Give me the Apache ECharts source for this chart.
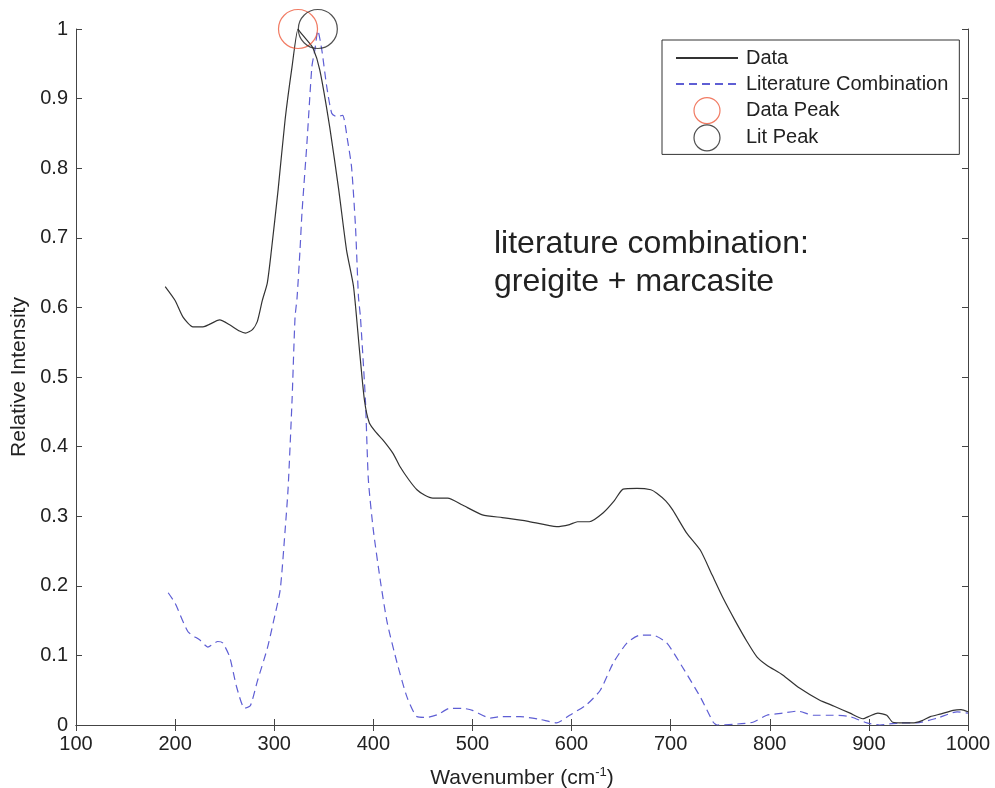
<!DOCTYPE html>
<html>
<head>
<meta charset="utf-8">
<script src="https://cdn.jsdelivr.net/npm/echarts@6/dist/echarts.min.js"></script>
<style>
html,body{margin:0;padding:0;background:#fff;}
#chart{width:995px;height:788px;}
</style>
</head>
<body>
<div id="chart"></div>
<script>
// Measured spectrum (Data)
var dataWavenumber = [190,200,208,218,228,245,255,265,271,278,283,288,293,297,304,311,318,324,326,333,339,346,356,365,373,380,386,391,396,403,410,420,427,436,444,452,460,475,490,510,530,555,585,598,606,618,632,643,652,666,680,686,695,702,716,730,742,753,765,777,787,797,813,830,850,865,881,894,901,909,918,924,935,944,953,962,973,985,993,1000];
var dataIntensity = [0.63,0.61,0.586,0.572,0.572,0.582,0.575,0.566,0.563,0.568,0.58,0.61,0.635,0.68,0.77,0.87,0.946,1.0,0.996,0.984,0.973,0.941,0.859,0.77,0.682,0.63,0.539,0.467,0.434,0.42,0.409,0.39,0.371,0.352,0.338,0.33,0.326,0.326,0.316,0.302,0.298,0.293,0.285,0.288,0.292,0.292,0.305,0.322,0.339,0.34,0.338,0.333,0.322,0.309,0.276,0.251,0.215,0.182,0.15,0.12,0.098,0.086,0.072,0.053,0.036,0.027,0.017,0.009,0.013,0.017,0.014,0.004,0.003,0.003,0.006,0.012,0.016,0.021,0.022,0.019];

// Literature combination (greigite + marcasite)
var litWavenumber = [193,200,213,225,233,243,248,255,262,270,276,283,293,299,306,311,314,318,321,323,326,328,333,338,341,344,348,353,358,363,369,374,378,382,385,387,392,395,400,407,414,424,434,444,454,465,477,490,500,518,528,548,568,585,598,615,629,642,656,669,682,696,712,730,743,747,763,783,797,813,828,844,864,881,898,911,931,948,969,989,1000];
var litIntensity = [0.19,0.175,0.134,0.122,0.112,0.12,0.118,0.098,0.055,0.024,0.028,0.063,0.11,0.147,0.194,0.28,0.34,0.467,0.586,0.613,0.682,0.736,0.836,0.946,0.97,0.998,0.97,0.917,0.879,0.874,0.876,0.84,0.802,0.716,0.615,0.586,0.467,0.352,0.28,0.208,0.147,0.089,0.04,0.012,0.011,0.015,0.024,0.024,0.021,0.01,0.012,0.012,0.008,0.003,0.014,0.029,0.05,0.089,0.118,0.129,0.129,0.118,0.083,0.04,0.004,0,0.001,0.004,0.014,0.017,0.02,0.014,0.014,0.012,0.003,0,0.003,0.003,0.01,0.019,0.017];

// Peaks
var dataPeak = [324, 1];
var litPeak = [344, 1];

var seriesNames = ['Data','Literature Combination','Data Peak','Lit Peak'];
var xTitle = 'Wavenumber (cm';
var yTitle = 'Relative Intensity';
var annotationLines = ['literature combination:', 'greigite + marcasite'];

function zip(xs, ys){ return xs.map(function(x,i){ return [x, ys[i]]; }); }

var font = 'Liberation Sans, Arial, Helvetica, sans-serif';
var chart = echarts.init(document.getElementById('chart'), null, {renderer:'canvas'});

var axisCommon = {
  axisLine:{show:true, lineStyle:{color:'#444', width:1}},
  axisTick:{show:true, inside:true, length:6, lineStyle:{color:'#444'}},
  splitLine:{show:false}
};

var redC = '#ee5a3c', blackC = '#222', blueC = '#5e5ed4';

chart.setOption({
  animation:false,
  backgroundColor:'#fff',
  grid:{left:76, right:27, top:29, bottom:63, containLabel:false, outerBoundsMode:'none'},
  legend:{
    orient:'vertical', left:662, top:40,
    padding:[5,11,3,13],
    itemWidth:62, itemHeight:26, itemGap:0,
    borderColor:'#333', borderWidth:1, backgroundColor:'#fff',
    textStyle:{fontFamily:font, fontSize:20, lineHeight:26, height:26, color:'#222', padding:[0,0,0,3]},
    data:[
      {name:seriesNames[0], itemStyle:{opacity:0}},
      {name:seriesNames[1], itemStyle:{opacity:0}},
      {name:seriesNames[2], icon:'circle', itemStyle:{color:'rgba(0,0,0,0)', borderColor:redC, borderWidth:1.2}},
      {name:seriesNames[3], icon:'circle', itemStyle:{color:'rgba(0,0,0,0)', borderColor:blackC, borderWidth:1.2}}
    ]
  },
  xAxis:[
    Object.assign({
      type:'value', min:100, max:1000, interval:100, position:'bottom',
      name:xTitle, nameLocation:'middle', nameGap:41,
      nameTextStyle:{fontFamily:font, fontSize:21, color:'#222',
        rich:{sup:{fontFamily:font, fontSize:13, color:'#222', verticalAlign:'top', padding:[0,0,12,0]}}},
      axisLabel:{fontFamily:font, fontSize:20, color:'#222', margin:9, formatter:function(v){return String(v);}}
    }, axisCommon),
    Object.assign({
      type:'value', min:100, max:1000, interval:100, position:'top',
      axisLabel:{show:false}
    }, axisCommon)
  ],
  yAxis:[
    Object.assign({
      type:'value', min:0, max:1, interval:0.1, position:'left',
      name:yTitle, nameLocation:'middle', nameGap:45,
      nameTextStyle:{fontFamily:font, fontSize:21, color:'#222'},
      axisLabel:{fontFamily:font, fontSize:20, color:'#222', margin:8}
    }, axisCommon),
    Object.assign({
      type:'value', min:0, max:1, interval:0.1, position:'right',
      axisLabel:{show:false}
    }, axisCommon)
  ],
  series:[
    {
      name:seriesNames[0], type:'line', xAxisIndex:0, yAxisIndex:0,
      data:zip(dataWavenumber, dataIntensity), symbol:'none', smooth:0.2,
      lineStyle:{color:'#333', width:1.2}, itemStyle:{color:'#333'}, z:3
    },
    {
      name:seriesNames[1], type:'line', xAxisIndex:0, yAxisIndex:0,
      data:zip(litWavenumber, litIntensity), symbol:'none', smooth:0.2,
      lineStyle:{color:blueC, width:1.2, type:[8,5]}, itemStyle:{color:blueC}, z:2
    },
    {
      name:seriesNames[2], type:'scatter', xAxisIndex:0, yAxisIndex:0,
      data:[dataPeak], symbol:'circle', symbolSize:39, clip:false,
      itemStyle:{color:'rgba(0,0,0,0)', borderColor:redC, borderWidth:1.2}, z:4
    },
    {
      name:seriesNames[3], type:'scatter', xAxisIndex:0, yAxisIndex:0,
      data:[litPeak], symbol:'circle', symbolSize:39, clip:false,
      itemStyle:{color:'rgba(0,0,0,0)', borderColor:blackC, borderWidth:1.2}, z:4
    }
  ],
  graphic:[
    {type:'text', left:494, top:225, z:10,
     style:{text:annotationLines.join('\n'), fontFamily:font, fontSize:32, lineHeight:38, fill:'#222'}}
  ]
});

// Superscript in x-axis title via rich text
chart.setOption({xAxis:[{name:xTitle + '{sup|-1}' + ')'}]});
</script>
</body>
</html>
